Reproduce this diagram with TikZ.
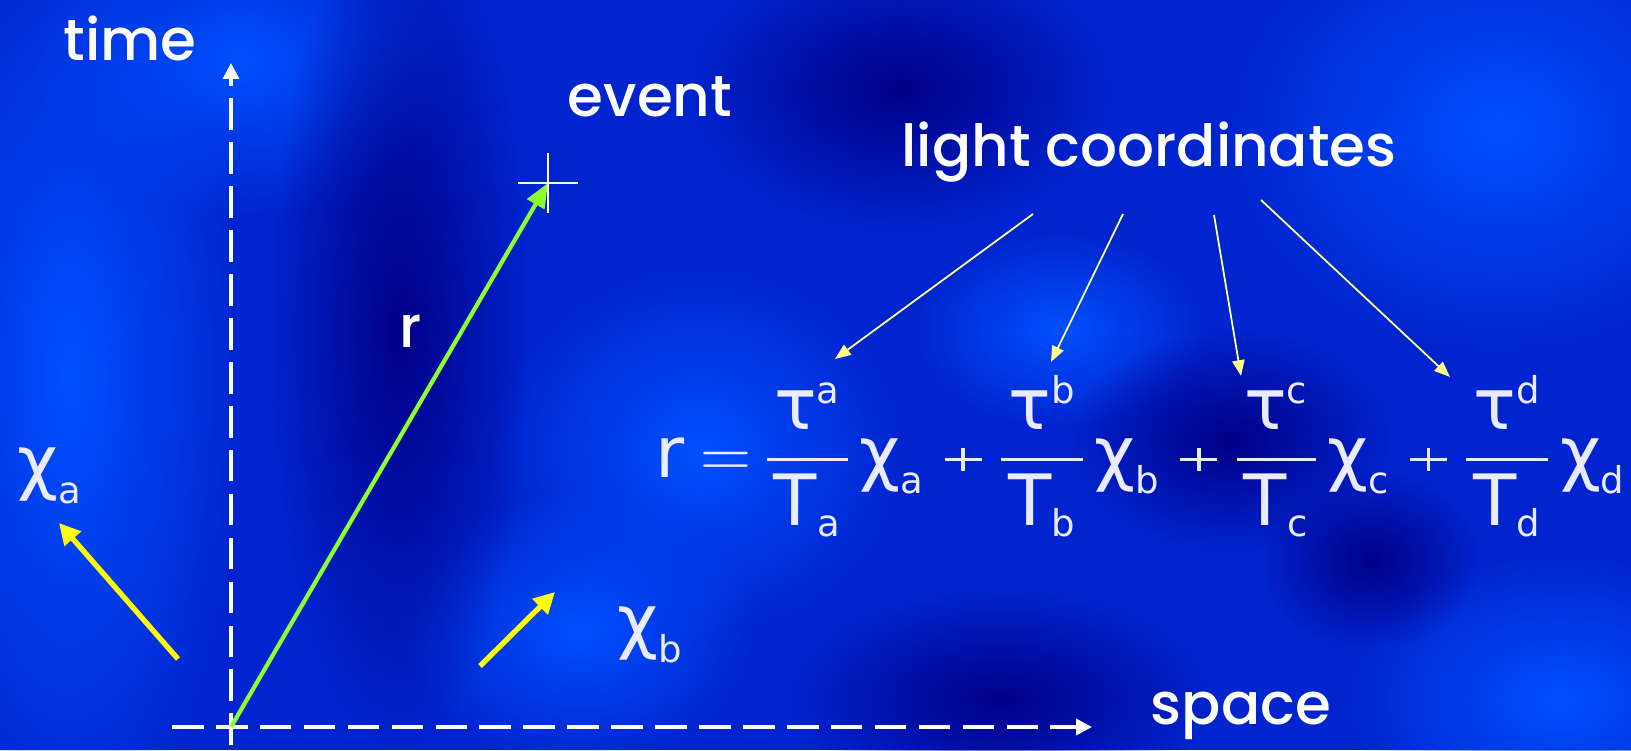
\documentclass[tikz,border=0pt]{standalone}
\usepackage{amsmath}
\usepackage{fontspec}
\IfFontExistsTF{Poppins Medium}{\setmainfont{Poppins Medium}}{\setmainfont{Poppins}}
\newfontfamily\eqfont{DejaVu Sans}
\usetikzlibrary{arrows.meta, fadings}
\DeclareMathSizes{24.88}{24.88}{13}{10}

\definecolor{bgbase}{RGB}{0,36,205}
\definecolor{bgbright}{RGB}{0,80,255}
\definecolor{bgdark}{RGB}{0,0,135}
\definecolor{lineyellow}{RGB}{255,255,0}
\definecolor{ptryellow}{RGB}{255,255,140}
\definecolor{worldgreen}{RGB}{140,255,50}
\tikzfading[name=softblob, inner color=transparent!0, outer color=transparent!100]

% flat plus sign, as in the slide
\newcommand{\eqplus}{\mathbin{\rlap{\rule[5.6pt]{13pt}{1.2pt}}\hspace{5.9pt}\rule[2.2pt]{1.2pt}{8pt}\hspace{5.9pt}}}
\newcommand{\lcterm}[1]{\frac{\hspace{2.5pt}\text{τ}^{\text{#1}}\hspace{2.5pt}}{\text{T}_{\text{#1}}}\,\text{χ}_{\text{#1}}}

\begin{document}
\begin{tikzpicture}[x=0.02cm, y=-0.02cm,
    lbl/.style={text=white, font=\fontsize{33}{38}\selectfont, inner sep=0pt},
    sym/.style={text=white!92!blue, font=\eqfont\Huge, scale=1.62, inner sep=0pt},
    axis/.style={white, line width=2pt, dash pattern=on 18pt off 7pt, -{Triangle[length=9pt, width=9pt]}},
    basis/.style={lineyellow, line width=3pt, -{Triangle[length=12pt, width=12pt]}},
    pointer/.style={ptryellow, line width=1pt, -{Triangle[length=9pt, width=7pt]}},
    glow/.style={fill=#1, path fading=softblob}
]
% Background
\useasboundingbox (0,0) rectangle (1631,750);
\fill[bgbase] (0,0) rectangle (1631,750);
\fill[glow=bgbright] (70,375) ellipse [x radius=180, y radius=500];
\fill[glow=bgbright] (240,60) ellipse [x radius=210, y radius=160];
\fill[glow=bgbright] (700,450) ellipse [x radius=210, y radius=190];
\fill[glow=bgbright] (580,630) ellipse [x radius=180, y radius=140];
\fill[glow=bgbright] (1500,130) ellipse [x radius=280, y radius=230];
\fill[glow=bgbright] (1560,700) ellipse [x radius=220, y radius=150];
\fill[glow=bgbright] (1060,330) ellipse [x radius=150, y radius=100];
\fill[glow=bgdark] (400,330) ellipse [x radius=130, y radius=420];
\fill[glow=bgdark] (900,90) ellipse [x radius=210, y radius=140];
\fill[glow=bgdark] (1230,440) ellipse [x radius=160, y radius=110];
\fill[glow=bgdark] (1000,700) ellipse [x radius=210, y radius=110];
\fill[glow=bgdark] (1370,560) ellipse [x radius=110, y radius=90];

% Axes
\coordinate (O) at (231,727);
\coordinate (tbot) at (231,745);
\coordinate (ttop) at (231,63);
\coordinate (sleft) at (172,727);
\coordinate (sright) at (1092,727);
\draw[axis] (tbot) -- (ttop);
\draw[axis] (sleft) -- (sright);
\node[lbl] (time) at (130,38) {time};
\node[lbl] (space) at (1241,716) {space};

% Event and its vector
\coordinate (ev) at (548,183);
\draw[worldgreen, line width=2.4pt, -{Triangle[length=14pt, width=11pt]}] (O) -- (ev);
\draw[white, line width=1.6pt] (ev) ++(-30,0) -- ++(60,0);
\draw[white, line width=1.6pt] (ev) ++(0,-30) -- ++(0,60);
\node[lbl] (event) at (650,97) {event};
\node[lbl] (rlab) at (411,331) {r};

% Basis vectors
\coordinate (xa0) at (178,659);
\coordinate (xa1) at (59,523);
\coordinate (xb0) at (480,666);
\coordinate (xb1) at (555,592);
\draw[basis] (xa0) -- (xa1);
\draw[basis] (xb0) -- (xb1);
\node[sym] (chia) at (50,476) {$\text{χ}_{\text{a}}$};
\node[sym] (chib) at (650,635) {$\text{χ}_{\text{b}}$};

% Decomposition
\node[sym, anchor=base west] (rform) at (655,477)
  {$\nulldelimiterspace=0pt \thickmuskip=4mu \medmuskip=5mu \displaystyle
   \text{r} = \lcterm{a} \eqplus \lcterm{b} \eqplus \lcterm{c} \eqplus \lcterm{d}$};
\node[lbl] (light) at (1149,152) {light coordinates};

\coordinate (la0) at (1033,214);
\coordinate (la1) at (835,359);
\coordinate (lb0) at (1123,214);
\coordinate (lb1) at (1051,362);
\coordinate (lc0) at (1214,215);
\coordinate (lc1) at (1241,376);
\coordinate (ld0) at (1261,200);
\coordinate (ld1) at (1450,377);
\draw[pointer] (la0) -- (la1);
\draw[pointer] (lb0) -- (lb1);
\draw[pointer] (lc0) -- (lc1);
\draw[pointer] (ld0) -- (ld1);
\end{tikzpicture}
\end{document}
